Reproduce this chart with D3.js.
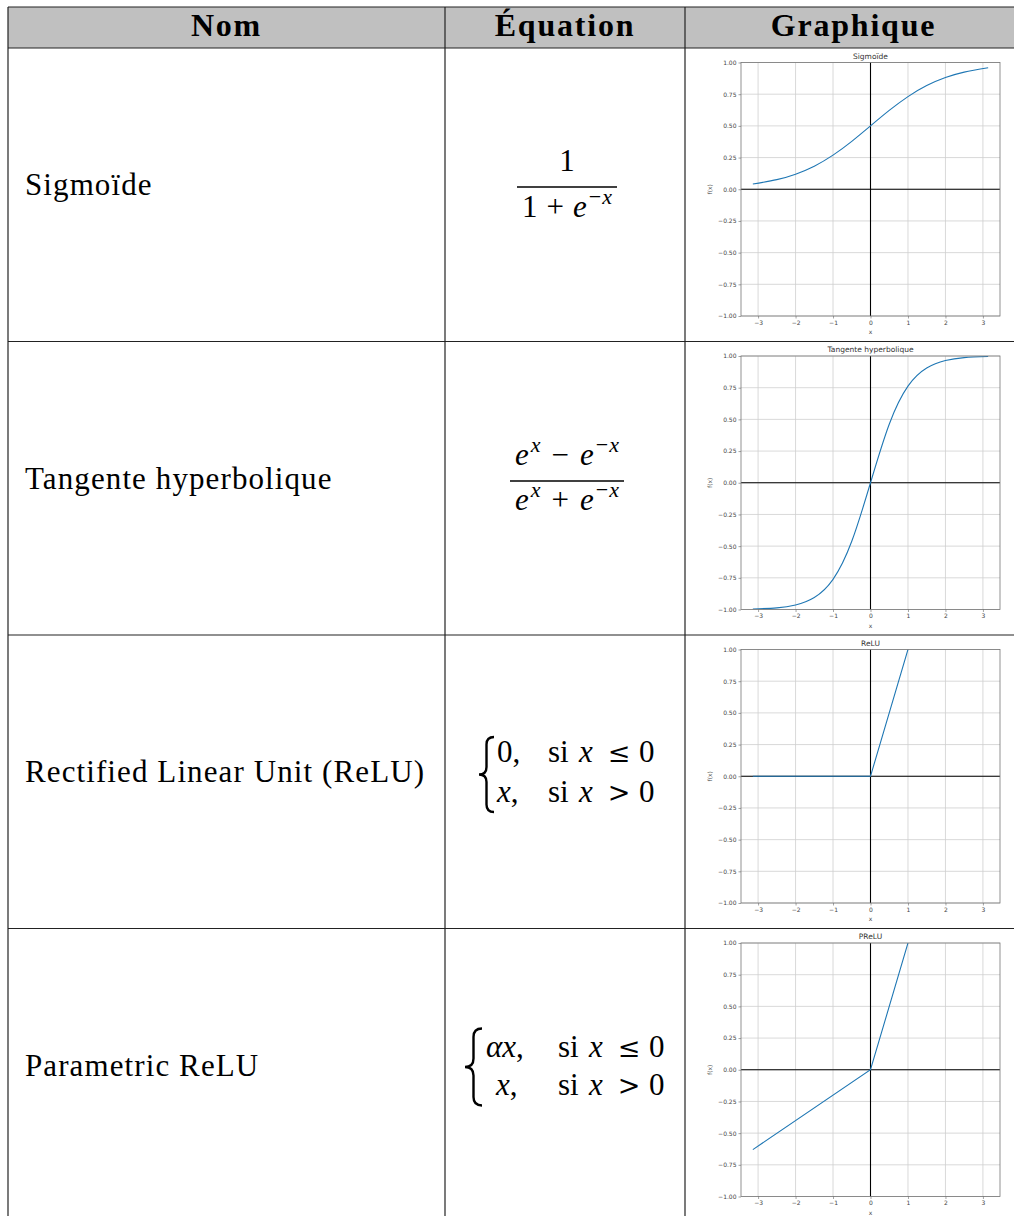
<!DOCTYPE html>
<html>
<head>
<meta charset="utf-8">
<script src="https://cdn.jsdelivr.net/npm/d3@7"></script>
<style>
  body { margin: 0; background: #fff; }
</style>
</head>
<body>
<div id="chart"></div>
<script>
// table content
const headers = ["Nom", "Équation", "Graphique"];
const rowNames = ["Sigmoïde", "Tangente hyperbolique", "Rectified Linear Unit (ReLU)", "Parametric ReLU"];
const plotTitles = ["Sigmoïde", "Tangente hyperbolique", "ReLU", "PReLU"];

// plot axes
const xTicks = [-3, -2, -1, 0, 1, 2, 3];
const yTicks = [-1, -0.75, -0.5, -0.25, 0, 0.25, 0.5, 0.75, 1];

// curves
const curveX = [-3.14, -2.5, -2, -1.5, -1, -0.5, 0, 0.5, 1, 1.5, 2, 2.5, 3.14];
const sigmoidY = [0.041, 0.076, 0.119, 0.182, 0.269, 0.378, 0.5, 0.622, 0.731, 0.818, 0.881, 0.924, 0.959];
const tanhY = [-0.996, -0.987, -0.964, -0.905, -0.762, -0.462, 0, 0.462, 0.762, 0.905, 0.964, 0.987, 0.996];
const reluX = [-3.14, 0, 3.14];
const reluY = [0, 0, 3.14];
const preluX = [-3.14, 0, 3.14];
const preluY = [-0.63, 0, 3.14];

const series = [
    { xs: curveX, ys: sigmoidY, smooth: true },
    { xs: curveX, ys: tanhY, smooth: true },
    { xs: reluX, ys: reluY, smooth: false },
    { xs: preluX, ys: preluY, smooth: false }
];

const W = 1014, H = 1216;
const colX = [8, 445, 685, 1022];
const headTop = 7, headBottom = 48, rowH = 293.5;
const serif = "'Liberation Serif', 'Times New Roman', serif";
const sans = "'DejaVu Sans', sans-serif";

const svg = d3.select("#chart").append("svg")
    .attr("width", W)
    .attr("height", H);

// header background
svg.append("rect")
    .attr("x", colX[0]).attr("y", headTop)
    .attr("width", colX[3] - colX[0]).attr("height", headBottom - headTop)
    .attr("fill", "#c0c0c0");

headers.forEach((h, i) => {
    svg.append("text")
        .attr("x", (colX[i] + colX[i + 1]) / 2)
        .attr("y", 36)
        .attr("text-anchor", "middle")
        .style("font-family", serif)
        .style("font-weight", "bold")
        .style("font-size", "32px")
        .style("letter-spacing", "1.8px")
        .text(h);
});

const rowTop = i => headBottom + i * rowH;

// names
rowNames.forEach((n, i) => {
    svg.append("text")
        .attr("x", 25)
        .attr("y", rowTop(i) + 147)
        .style("font-family", serif)
        .style("font-size", "31px")
        .style("letter-spacing", "1.1px")
        .text(n);
});

// ---------- equations ----------
function mathText(x, y, anchor) {
    return svg.append("text")
        .attr("x", x).attr("y", y)
        .attr("text-anchor", anchor || "start")
        .style("font-family", serif)
        .style("font-size", "31px");
}
function it(t, s) { t.append("tspan").style("font-style", "italic").text(s); return t; }
function rel(x, y, s) {
    return svg.append("text")
        .attr("x", x).attr("y", y)
        .attr("text-anchor", "middle")
        .style("font-family", "'DejaVu Serif', serif")
        .style("font-size", "27px")
        .text(s);
}

// sigmoid
(function () {
    const t0 = rowTop(0);
    mathText(567, t0 + 123, "middle").text("1");
    svg.append("line").attr("x1", 517).attr("x2", 617)
        .attr("y1", t0 + 139).attr("y2", t0 + 139)
        .attr("stroke", "#000").attr("stroke-width", 1.3);
    const d = mathText(567, t0 + 169, "middle");
    d.append("tspan").text("1");
    d.append("tspan").attr("dx", 9).text("+");
    d.append("tspan").attr("dx", 9).style("font-style", "italic").text("e");
    const sup = d.append("tspan").attr("dy", -13).attr("dx", 2).style("font-size", "22px");
    sup.text("−");
    sup.append("tspan").attr("dx", 1).style("font-style", "italic").text("x");
})();

// tanh
(function () {
    const t0 = rowTop(1);
    const parts = (t, op) => {
        t.append("tspan").style("font-style", "italic").text("e");
        t.append("tspan").attr("dy", -13).attr("dx", 2).style("font-size", "22px").style("font-style", "italic").text("x");
        t.append("tspan").attr("dy", 13).attr("dx", 11).text(op);
        t.append("tspan").attr("dx", 11).style("font-style", "italic").text("e");
        const s = t.append("tspan").attr("dy", -13).attr("dx", 2).style("font-size", "22px");
        s.text("−");
        s.append("tspan").attr("dx", 1).style("font-style", "italic").text("x");
    };
    parts(mathText(567, t0 + 123.5, "middle"), "−");
    svg.append("line").attr("x1", 510).attr("x2", 624)
        .attr("y1", t0 + 139.5).attr("y2", t0 + 139.5)
        .attr("stroke", "#000").attr("stroke-width", 1.3);
    parts(mathText(567, t0 + 168.5, "middle"), "+");
})();

function brace(x, y0, y1, w) {
    const ym = (y0 + y1) / 2, h = w / 2;
    const p = d3.path();
    p.moveTo(x + w, y0);
    p.quadraticCurveTo(x + h, y0, x + h, y0 + h);
    p.lineTo(x + h, ym - h);
    p.quadraticCurveTo(x + h, ym, x, ym);
    p.quadraticCurveTo(x + h, ym, x + h, ym + h);
    p.lineTo(x + h, y1 - h);
    p.quadraticCurveTo(x + h, y1, x + w, y1);
    svg.append("path").attr("d", p.toString())
        .attr("fill", "none").attr("stroke", "#000").attr("stroke-width", 2.4);
}

// relu
(function () {
    const t0 = rowTop(2);
    brace(479, t0 + 102, t0 + 177, 15);
    const b1 = t0 + 127, b2 = t0 + 167;
    mathText(497, b1).text("0,");
    it(mathText(497, b2), "x").append("tspan").text(",");
    [b1, b2].forEach((b, k) => {
        mathText(548, b).text("si");
        it(mathText(579, b), "x");
        rel(619, b, k === 0 ? "≤" : ">");
        mathText(639, b).text("0");
    });
})();

// prelu
(function () {
    const t0 = rowTop(3);
    brace(465, t0 + 100, t0 + 177, 17);
    const b1 = t0 + 128, b2 = t0 + 166;
    it(mathText(486, b1), "αx").append("tspan").text(",");
    it(mathText(496, b2), "x").append("tspan").text(",");
    [b1, b2].forEach((b, k) => {
        mathText(558, b).text("si");
        it(mathText(589, b), "x");
        rel(629, b, k === 0 ? "≤" : ">");
        mathText(649, b).text("0");
    });
})();

// ---------- small plots ----------
series.forEach((s, i) => {
    const t0 = rowTop(i);
    const left = 741, right = 1000, top = t0 + 14.5, bottom = t0 + 268;
    const x = d3.scaleLinear().domain([-3.456, 3.456]).range([left, right]);
    const y = d3.scaleLinear().domain([-1, 1]).range([bottom, top]);
    const g = svg.append("g");

    // grid
    g.selectAll(".gx").data(xTicks).join("line")
        .attr("x1", d => x(d)).attr("x2", d => x(d))
        .attr("y1", top).attr("y2", bottom)
        .attr("stroke", "#cfcfcf").attr("stroke-width", 0.8);
    g.selectAll(".gy").data(yTicks).join("line")
        .attr("x1", left).attr("x2", right)
        .attr("y1", d => y(d)).attr("y2", d => y(d))
        .attr("stroke", "#cfcfcf").attr("stroke-width", 0.8);

    // zero lines
    g.append("line").attr("x1", left).attr("x2", right)
        .attr("y1", y(0)).attr("y2", y(0))
        .attr("stroke", "#000").attr("stroke-width", 1.1);
    g.append("line").attr("x1", x(0)).attr("x2", x(0))
        .attr("y1", top).attr("y2", bottom)
        .attr("stroke", "#000").attr("stroke-width", 1.1);

    // curve
    const clipId = "clip" + i;
    svg.append("clipPath").attr("id", clipId).append("rect")
        .attr("x", left).attr("y", top).attr("width", right - left).attr("height", bottom - top);
    const pts = s.xs.map((v, k) => [v, s.ys[k]]);
    const line = d3.line().x(d => x(d[0])).y(d => y(d[1]))
        .curve(s.smooth ? d3.curveNatural : d3.curveLinear);
    g.append("path").attr("d", line(pts))
        .attr("clip-path", "url(#" + clipId + ")")
        .attr("fill", "none").attr("stroke", "#1f77b4").attr("stroke-width", 1.1);

    // spines
    g.append("rect").attr("x", left).attr("y", top)
        .attr("width", right - left).attr("height", bottom - top)
        .attr("fill", "none").attr("stroke", "#777").attr("stroke-width", 0.8);

    // axes
    const xa = g.append("g").attr("transform", "translate(0," + bottom + ")")
        .call(d3.axisBottom(x).tickValues(xTicks).tickSize(2.5).tickPadding(2).tickFormat(d3.format("d")));
    const ya = g.append("g").attr("transform", "translate(" + left + ",0)")
        .call(d3.axisLeft(y).tickValues(yTicks).tickSize(2.5).tickPadding(2).tickFormat(d3.format(".2f")));
    [xa, ya].forEach(a => {
        a.select(".domain").remove();
        a.selectAll(".tick line").attr("stroke", "#666").attr("stroke-width", 0.6);
        a.selectAll("text").style("font-family", sans).style("font-size", "6px").attr("fill", "#444");
    });

    // labels
    g.append("text").attr("x", (left + right) / 2).attr("y", top - 4)
        .attr("text-anchor", "middle")
        .style("font-family", sans).style("font-size", "7.5px").attr("fill", "#333")
        .text(plotTitles[i]);
    g.append("text").attr("x", (left + right) / 2).attr("y", bottom + 18)
        .attr("text-anchor", "middle")
        .style("font-family", sans).style("font-size", "6px").attr("fill", "#444")
        .text("x");
    g.append("text")
        .attr("transform", "translate(712," + (top + bottom) / 2 + ") rotate(-90)")
        .attr("text-anchor", "middle")
        .style("font-family", sans).style("font-size", "6px").attr("fill", "#444")
        .text("f(x)");
});

// ---------- table rules ----------
const rule = (x1, y1, x2, y2) => svg.append("line")
    .attr("x1", x1).attr("y1", y1).attr("x2", x2).attr("y2", y2)
    .attr("stroke", "#222").attr("stroke-width", 1.2);

rule(colX[0], headTop, colX[3], headTop);
rule(colX[0], headBottom, colX[3], headBottom);
for (let i = 1; i < 4; i++) rule(colX[0], rowTop(i), colX[3], rowTop(i));
colX.forEach(cx => rule(cx, headTop, cx, H));
</script>
</body>
</html>
